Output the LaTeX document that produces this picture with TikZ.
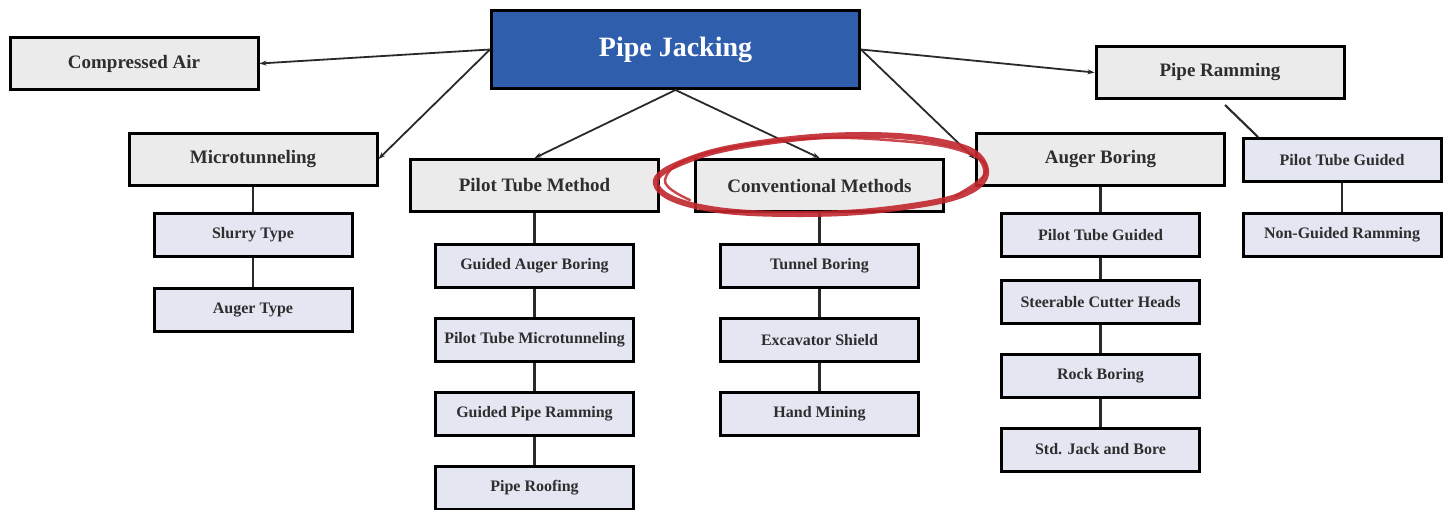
\documentclass[tikz,border=0pt]{standalone}
\usepackage{fontspec}
\setmainfont{Liberation Serif}
\usetikzlibrary{arrows.meta}
\definecolor{pjblue}{HTML}{2F5EAD}
\definecolor{parentfill}{HTML}{ECEBEB}
\definecolor{childfill}{HTML}{E4E6F2}
\definecolor{txt}{HTML}{2E2E2E}
\definecolor{linec}{HTML}{2A2A2A}
\definecolor{redmark}{HTML}{C1272D}
\begin{document}
\begin{tikzpicture}[x=1pt,y=-1pt,
  base/.style={draw=black, line width=3pt, rectangle, inner sep=0pt, text=txt},
  parent/.style={base, fill=parentfill, minimum width=248pt, minimum height=52pt, font=\fontsize{19}{19}\selectfont\bfseries},
  child/.style={base, fill=childfill, minimum width=198pt, minimum height=43pt, font=\fontsize{16}{16}\selectfont\bfseries},
  arr/.style={draw=linec, line width=1.8pt, -{Stealth[length=7pt,width=5pt]}},
  conn/.style={draw=linec, line width=2.1pt}
]
\useasboundingbox (0,0) rectangle (1447,509);
% top
\node[base, fill=pjblue, text=white, minimum width=368pt, minimum height=78pt, font=\fontsize{28}{28}\selectfont\bfseries] (pj) at (675.5,49.5) {Pipe Jacking};
% parents
\node[parent] (ca) at (134,63.5) {Compressed Air};
\node[parent] (mt) at (253,159) {Microtunneling};
\node[parent] (ptm) at (534.5,185.5) {Pilot Tube Method};
\node[parent] (cm) at (819.5,185.5) {Conventional Methods};
\node[parent] (ab) at (1100.5,159) {Auger Boring};
\node[parent] (pr) at (1220,72.5) {Pipe Ramming};
% microtunneling children
\node[child] (st) at (253,235) {Slurry Type};
\node[child] (at) at (253,309.5) {Auger Type};
% pilot tube method children
\node[child] (gab) at (534.5,266) {Guided Auger Boring};
\node[child] (ptmt) at (534.5,340) {Pilot Tube Microtunneling};
\node[child] (gpr) at (534.5,414) {Guided Pipe Ramming};
\node[child] (prf) at (534.5,488) {Pipe Roofing};
% conventional children
\node[child] (tb) at (819.5,266) {Tunnel Boring};
\node[child] (es) at (819.5,340) {Excavator Shield};
\node[child] (hm) at (819.5,414) {Hand Mining};
% auger boring children
\node[child] (ptg) at (1100.5,235) {Pilot Tube Guided};
\node[child] (sch) at (1100.5,302) {Steerable Cutter Heads};
\node[child] (rb) at (1100.5,375.5) {Rock Boring};
\node[child] (sjb) at (1100.5,449.5) {Std. Jack and Bore};
% pipe ramming children
\node[child] (ptg2) at (1342,160) {Pilot Tube Guided};
\node[child] (ngr) at (1342,235) {Non-Guided Ramming};
% arrows from Pipe Jacking
\draw[arr] (pj.west) -- (ca.east);
\draw[arr] (pj.west) -- (mt.east);
\draw[arr] (pj.south) -- (ptm.north);
\draw[arr] (pj.south) -- (cm.north);
\draw[arr] (pj.east) -- (pr.west);
\draw[arr] (pj.east) -- (ab.west);
% tree connectors
\draw[conn] (mt.south) -- (st.north);
\draw[conn] (st.south) -- (at.north);
\draw[conn] (ptm.south) -- (gab.north);
\draw[conn] (gab.south) -- (ptmt.north);
\draw[conn] (ptmt.south) -- (gpr.north);
\draw[conn] (gpr.south) -- (prf.north);
\draw[conn] (cm.south) -- (tb.north);
\draw[conn] (tb.south) -- (es.north);
\draw[conn] (es.south) -- (hm.north);
\draw[conn] (ab.south) -- (ptg.north);
\draw[conn] (ptg.south) -- (sch.north);
\draw[conn] (sch.south) -- (rb.north);
\draw[conn] (rb.south) -- (sjb.north);
\draw[conn] ([shift={(5,5)}]pr.south) -- ([xshift=-84pt]ptg2.north);
\draw[conn] (ptg2.south) -- (ngr.north);
% red hand-drawn mark
\draw[redmark, line width=6pt, line cap=round, opacity=0.9] plot[smooth cycle, tension=0.7] coordinates {(656,184) (688,160) (760,143) (860,135) (942,142) (982,160) (974,189) (905,207) (800,214) (700,207)};
\draw[redmark, line width=2.5pt, line cap=round, opacity=0.85] plot[smooth, tension=0.7] coordinates {(690,200) (665,180) (700,155) (800,139) (900,141) (965,152) (986,172) (955,196)};
\end{tikzpicture}
\end{document}
